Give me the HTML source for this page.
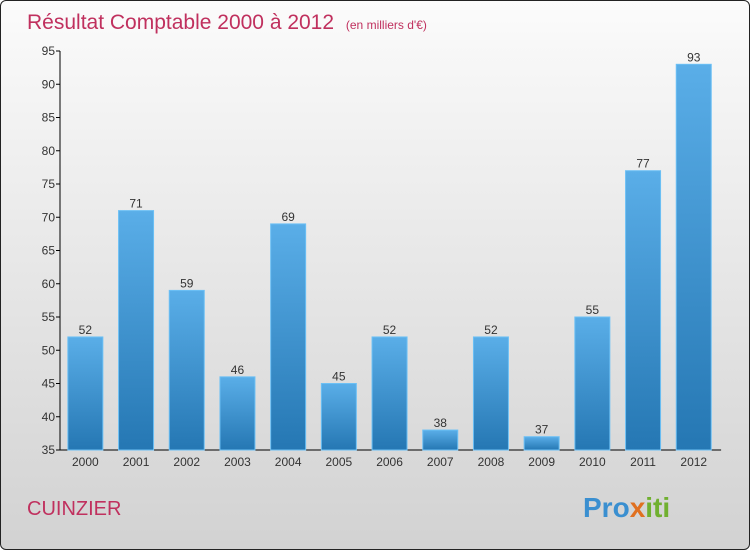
<!DOCTYPE html>
<html><head><meta charset="utf-8"><style>
body{margin:0;}
#wrap{position:relative;width:748px;height:548px;border:1px solid #222;border-radius:6px;overflow:hidden;background:linear-gradient(#fbfbfb,#d2d2d2);font-family:"Liberation Sans",sans-serif;}
svg text{font-family:"Liberation Sans",sans-serif;}
</style></head><body>
<div id="wrap">
<svg width="748" height="548" id="svg">
<defs><linearGradient id="bg" x1="0" y1="0" x2="0" y2="1"><stop offset="0" stop-color="#5aaee8"/><stop offset="1" stop-color="#2577b3"/></linearGradient></defs>
<text x="26" y="28" font-size="21" fill="#c0305e">Résultat Comptable 2000 à 2012 <tspan font-size="12" dx="6">(en milliers d'€)</tspan></text>
<text x="26" y="514" font-size="20" fill="#c0305e">CUINZIER</text>
<text x="582" y="516" font-size="28" font-weight="bold"><tspan fill="#3a8fd0">Pro</tspan><tspan fill="#e07020">x</tspan><tspan fill="#70b030">iti</tspan></text>
<g id="g"></g>
</svg>
</div>
<script>
const years=["2000","2001","2002","2003","2004","2005","2006","2007","2008","2009","2010","2011","2012"];
const values=[52,71,59,46,69,45,52,38,52,37,55,77,93];
const ticks=[35,40,45,50,55,60,65,70,75,80,85,90,95];
const NS="http://www.w3.org/2000/svg";
const g=document.getElementById('g');
const x0=59,band=50.7,y0=449,ymin=35,ymax=95,ytop=50;
const y=v=>y0-(v-ymin)*(y0-ytop)/(ymax-ymin);
function el(t,a){const e=document.createElementNS(NS,t);for(const k in a)e.setAttribute(k,a[k]);g.appendChild(e);return e;}
let ax=el('line',{x1:x0,y1:ytop,x2:x0,y2:y0,stroke:'#000'});


let xa=el('line',{x1:x0,y1:y0,x2:x0+13*band+2,y2:y0,stroke:'#000'});


ticks.forEach(t=>{
 let l=el('line',{x1:x0-4,y1:y(t),x2:x0,y2:y(t),stroke:'#000'});
 
 
 let tx=el('text',{x:x0-5,y:y(t)+4,'font-size':12,fill:'#333','text-anchor':'end'});
 tx.textContent=t;
 
 
});
years.forEach((yr,i)=>{
 const cx=x0+band*(i+0.5),v=values[i];
 let r=el('rect',{x:cx-17.5,y:y(v),width:35,height:y0-y(v),fill:'url(#bg)',stroke:'#6cc0f5','stroke-width':1});
 
 
 let vl=el('text',{x:cx,y:y(v)-3,'font-size':12,fill:'#333','text-anchor':'middle'});
 vl.textContent=v;
 
 
 let xl=el('text',{x:cx,y:y0+16,'font-size':12,fill:'#333','text-anchor':'middle'});
 xl.textContent=yr;
 
 
});
</script>
</body></html>
